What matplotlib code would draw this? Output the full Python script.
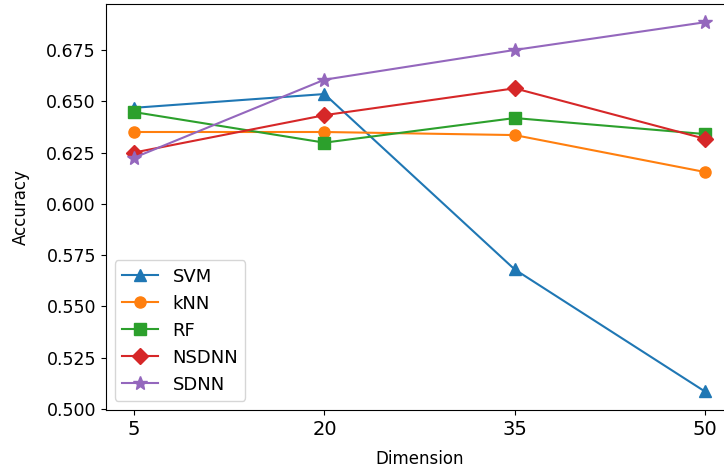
import numpy as np
from matplotlib import pyplot as plt

dims = [5, 20, 35, 50]
svm = [0.6468, 0.6535, 0.568, 0.5085]
knn = [0.635, 0.635, 0.6335, 0.6155]
rf = [0.6447, 0.6298, 0.6418, 0.634]
nsdnn = [0.625, 0.6432, 0.6563, 0.6317]
sdnn = [0.6225, 0.6605, 0.675, 0.6885]

fig, ax = plt.subplots(figsize=(7.24, 4.75), dpi=100)
ms = 8
plt.plot(dims, svm, '-^', ms=ms, label='SVM')
plt.plot(dims, knn, '-o', ms=ms, label='kNN')
plt.plot(dims, rf, '-s', ms=ms, label='RF')
plt.plot(dims, nsdnn, '-D', ms=ms, label='NSDNN')
plt.plot(dims, sdnn, '-*', ms=ms + 2, label='SDNN')
plt.xticks(dims, fontsize=14)
plt.yticks(fontsize=12.5)
plt.ylabel("Accuracy", fontsize=12, labelpad=12)
plt.xlabel("Dimension", fontsize=12, labelpad=8)
plt.legend(loc='lower left', fontsize=13)
# reference image is cropped on the right, so the axes run past the edge
plt.subplots_adjust(left=0.146, right=1.013, top=0.992, bottom=0.137)
plt.savefig('out.png')
